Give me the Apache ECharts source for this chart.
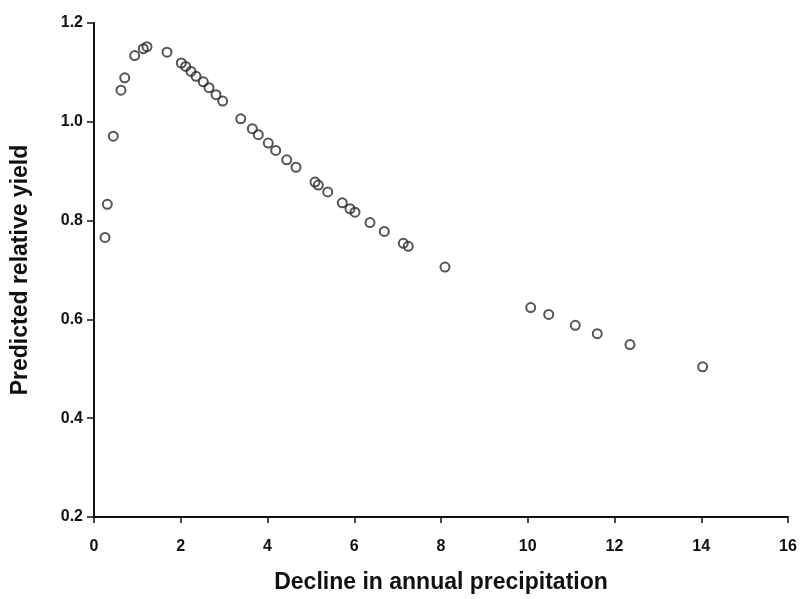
<!DOCTYPE html>
<html>
<head>
<meta charset="utf-8">
<script src="https://cdn.jsdelivr.net/npm/echarts@6/dist/echarts.min.js"></script>
<style>
  html, body { margin: 0; padding: 0; background: #fff; }
  #chart { width: 801px; height: 599px; }
</style>
</head>
<body>
<div id="chart"></div>
<script>
// decline in annual precipitation (x) and predicted relative yield (y)
const declineValues = [
  0.254, 0.307, 0.445, 0.622, 0.708, 0.938, 1.137, 1.222, 1.683,
  2.013, 2.114, 2.236, 2.352, 2.52, 2.651, 2.813, 2.967,
  3.382, 3.65, 3.788, 4.018, 4.189, 4.443, 4.657,
  5.095, 5.171, 5.388, 5.724, 5.902, 6.017, 6.363, 6.693, 7.131, 7.246,
  8.092, 10.068, 10.483, 11.096, 11.603, 12.357, 14.033
]
const yieldValues = [
  0.766, 0.833, 0.971, 1.064, 1.089, 1.134, 1.148, 1.152, 1.141,
  1.119, 1.112, 1.102, 1.092, 1.081, 1.069, 1.055, 1.042,
  1.006, 0.986, 0.974, 0.957, 0.942, 0.923, 0.908,
  0.878, 0.872, 0.858, 0.836, 0.824, 0.817, 0.796, 0.778, 0.754, 0.748,
  0.706, 0.624, 0.61, 0.588, 0.571, 0.549, 0.504
]

const font = 'Liberation Sans, Arial, sans-serif'
const axisText = { color: '#111', fontFamily: font, fontWeight: 'bold', fontSize: 16 }
const nameText = { color: '#111', fontFamily: font, fontWeight: 'bold', fontSize: 23 }

const chart = echarts.init(document.getElementById('chart'))
chart.setOption({
  animation: false,
  backgroundColor: '#fff',
  grid: { left: 94, right: 13, top: 23, bottom: 78 },
  xAxis: {
    type: 'value',
    min: 0,
    max: 16,
    interval: 2,
    name: 'Decline in annual precipitation',
    nameLocation: 'middle',
    nameGap: 54,
    nameTextStyle: nameText,
    axisLine: { onZero: false, lineStyle: { color: '#111', width: 2 } },
    axisTick: { show: true, length: 6, lineStyle: { color: '#111', width: 1.5 } },
    axisLabel: { ...axisText, margin: 22 },
    splitLine: { show: false }
  },
  yAxis: {
    type: 'value',
    min: 0.2,
    max: 1.2,
    interval: 0.2,
    name: 'Predicted relative yield',
    nameLocation: 'middle',
    nameGap: 62,
    nameTextStyle: nameText,
    axisLine: { show: true, onZero: false, lineStyle: { color: '#111', width: 2 } },
    axisTick: { show: true, length: 7, lineStyle: { color: '#111', width: 1.5 } },
    axisLabel: { ...axisText, margin: 11, formatter: v => v.toFixed(1) },
    splitLine: { show: false }
  },
  series: [{
    type: 'scatter',
    data: declineValues.map((x, i) => [x, yieldValues[i]]),
    symbol: 'circle',
    symbolSize: 9,
    itemStyle: { color: 'rgba(255,255,255,0)', borderColor: '#2a2a2a', borderWidth: 2 }
  }]
})
</script>
</body>
</html>
